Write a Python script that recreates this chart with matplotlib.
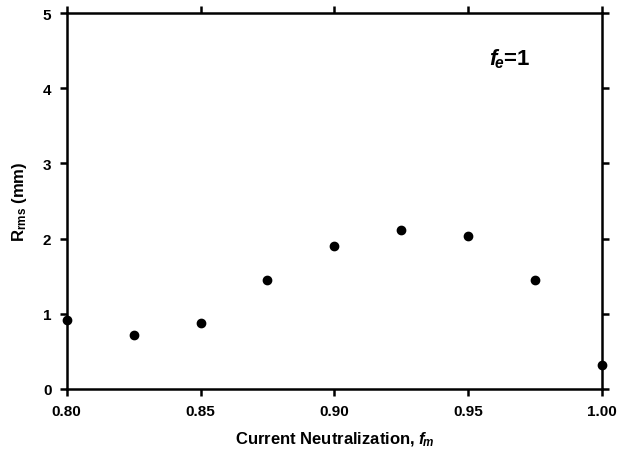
import matplotlib.pyplot as plt

# Rms radius vs current neutralization
fm = [0.800, 0.825, 0.850, 0.875, 0.900, 0.925, 0.950, 0.975, 1.000]
rrms = [0.92, 0.72, 0.88, 1.45, 1.90, 2.12, 2.03, 1.45, 0.32]

xticks = [0.80, 0.85, 0.90, 0.95, 1.00]
yticks = [0, 1, 2, 3, 4, 5]

plt.rcParams['font.family'] = ['Liberation Sans', 'DejaVu Sans']
plt.rcParams['mathtext.fontset'] = 'custom'
plt.rcParams['mathtext.it'] = 'Liberation Sans:italic:bold'
plt.rcParams['mathtext.rm'] = 'Liberation Sans'
plt.rcParams['mathtext.bf'] = 'Liberation Sans:bold'

fig = plt.figure(figsize=(6.18, 4.56), dpi=100)
ax = fig.add_axes([0.108, 0.145, 0.866, 0.824])

ax.plot(fm, rrms, 'o', color='black', markersize=6, clip_on=False, zorder=5)

ax.set_xlim(0.80, 1.00)
ax.set_ylim(0, 5)
ax.set_xticks(xticks)
ax.set_xticklabels(['%.2f' % v for v in xticks])
ax.set_yticks(yticks)

for s in ax.spines.values():
    s.set_linewidth(1.8)
ax.tick_params(direction='out', length=5, width=1.8, top=True, right=True,
               labeltop=False, labelright=False, labelsize=11, pad=6)
for lab in ax.get_xticklabels() + ax.get_yticklabels():
    lab.set_fontweight('bold')

ax.set_xlabel(r'Current Neutralization, $f_{\!m}$', fontsize=12,
              fontweight='bold', labelpad=8)
ax.set_ylabel(r'R$_{\mathregular{rms}}$ (mm)', fontsize=12, fontweight='bold', labelpad=10)

ax.text(0.865, 0.88, r'$f_{\!e}$=1', transform=ax.transAxes,
        fontsize=16, fontweight='bold', ha='right', va='center')

fig.savefig('out.png')
